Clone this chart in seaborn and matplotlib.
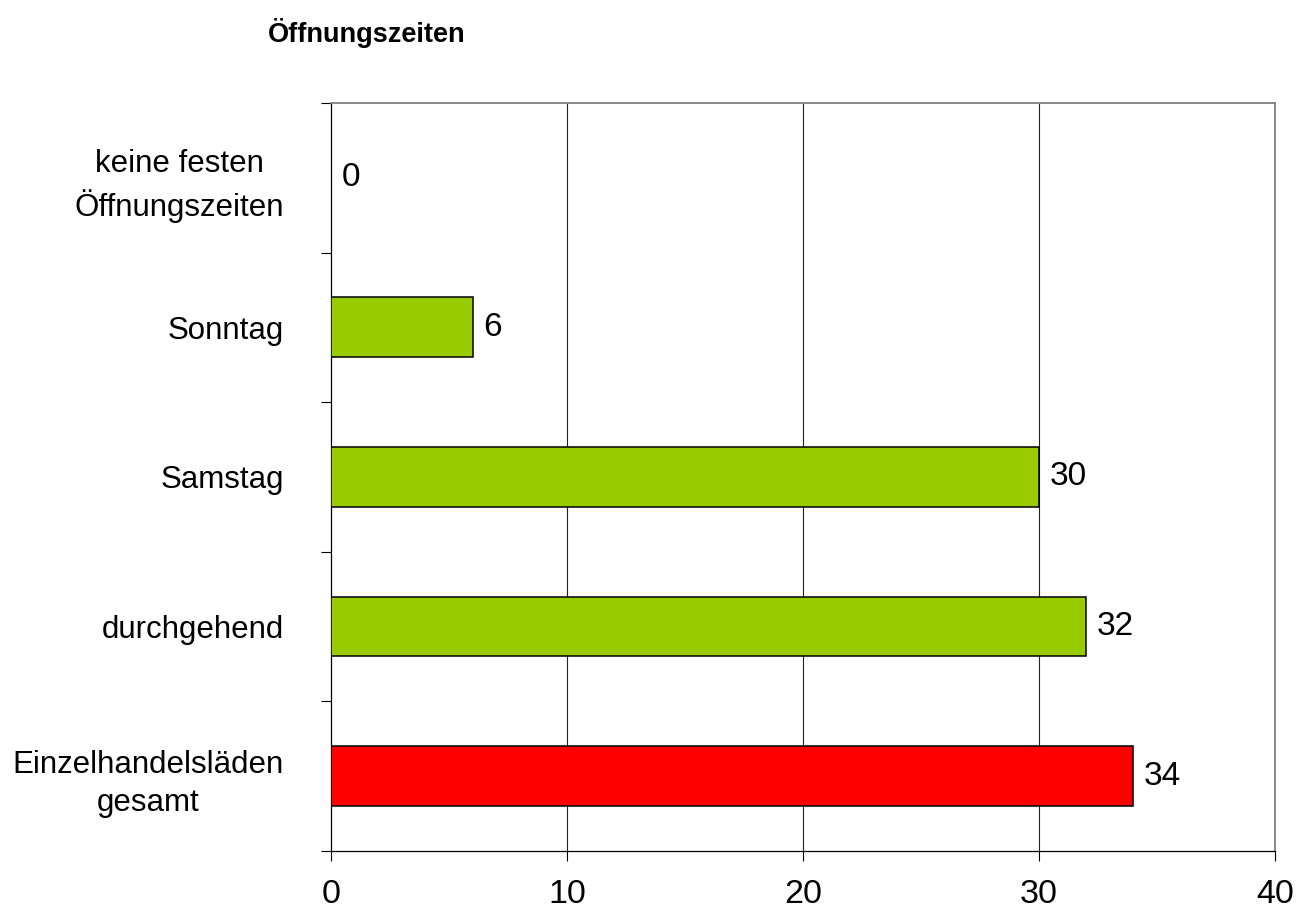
import matplotlib
matplotlib.use("Agg")
import matplotlib.pyplot as plt
import seaborn as sns
import pandas as pd
import numpy as np

# Chart data
categories = [
    "keine festen\nÖffnungszeiten",
    "Sonntag",
    "Samstag",
    "durchgehend",
    "Einzelhandelsläden\ngesamt",
]
values = [0, 6, 30, 32, 34]
bar_colors = ["#99CC00", "#99CC00", "#99CC00", "#99CC00", "#FF0000"]
x_ticks = [0, 10, 20, 30, 40]
title = "Öffnungszeiten"

sns.set_theme(style="white")
plt.rcParams["font.family"] = ["Liberation Sans", "DejaVu Sans"]
plt.rcParams["text.color"] = "black"
plt.rcParams["xtick.labelcolor"] = "black"
plt.rcParams["ytick.labelcolor"] = "black"

df = pd.DataFrame({"Kategorie": categories, "Wert": values})

fig = plt.figure(figsize=(13.01, 9.19), dpi=100)
ax = fig.add_axes([0.2544, 0.074, 0.7256, 0.814])

sns.barplot(
    data=df, x="Wert", y="Kategorie", hue="Kategorie",
    palette=bar_colors, saturation=1, orient="h", width=0.4, legend=False,
    edgecolor="black", linewidth=1.1, ax=ax, zorder=3,
)

ax.set_xlim(0, 40)
ax.set_ylim(len(categories) - 0.5, -0.5)
ax.set_xticks(x_ticks)
ax.set_xticklabels([str(t) for t in x_ticks], fontsize=24.5)
ax.set_xlabel("")
ax.set_ylabel("")

# category labels centred in their bands, tick marks on band boundaries
ax.set_yticks(range(len(categories)))
ax.set_yticklabels(categories, fontsize=22.5, ha="right",
                   multialignment="center", linespacing=1.38)
ax.set_yticks(np.arange(-0.5, len(categories)), minor=True)
ax.tick_params(axis="y", which="major", length=0, pad=34)
ax.tick_params(axis="y", which="minor", left=True, direction="out",
               length=7.2, width=0.8, color="black")
ax.tick_params(axis="x", which="major", bottom=True, direction="out",
               length=7.2, width=0.8, color="black", pad=13)

# vertical grid lines
for t in x_ticks[1:-1]:
    ax.axvline(t, color="#222222", linewidth=0.8, zorder=1)

for side in ["left", "bottom"]:
    ax.spines[side].set_color("black")
    ax.spines[side].set_linewidth(0.9)
for side in ["top", "right"]:
    ax.spines[side].set_color("#808080")
    ax.spines[side].set_linewidth(1.3)
    ax.spines[side].set_visible(True)

# value labels at bar ends
for i, v in enumerate(values):
    ax.annotate(str(v), xy=(v, i), xytext=(7.5, 0), textcoords="offset points",
                ha="left", va="center", fontsize=24, color="black")

fig.text(268 / 1301, 1 - 33 / 919, title, fontsize=19.5, fontweight="bold",
         ha="left", va="center", color="black")

fig.savefig("out.png", dpi=100, facecolor="white")
